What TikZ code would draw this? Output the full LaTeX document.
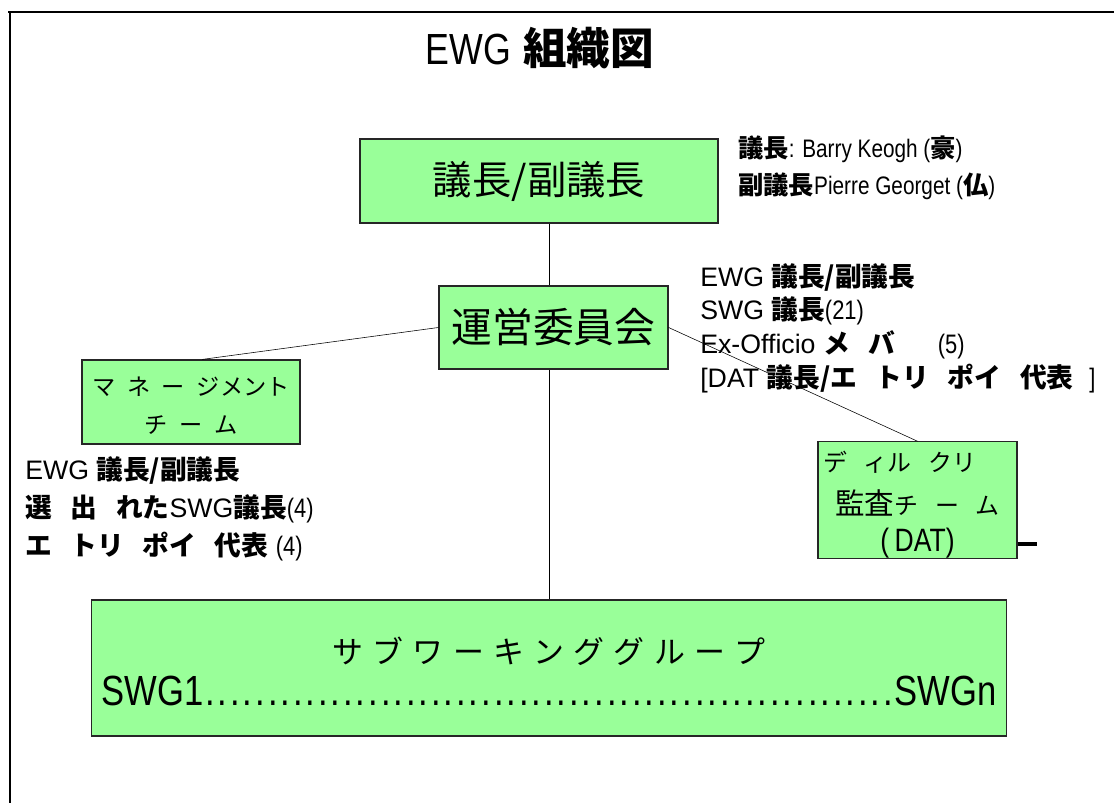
\documentclass[tikz,border=0pt]{standalone}
\usepackage{fontspec}
\setmainfont{Liberation Sans}
\newfontfamily\narrowsf[FakeStretch=0.82]{Liberation Sans}
\newfontfamily\jpfont{Noto Sans CJK JP}
\newcommand{\jpbold}[1]{{\jpfont\bfseries #1}}
\newcommand{\jgap}{\hspace{0.7em}}
\definecolor{boxgreen}{RGB}{153,255,153}

\tikzset{
  orgbox/.style={draw=black!85, fill=boxgreen, line width=0.8pt, inner sep=0pt, align=center},
  membernote/.style={inner sep=0pt, anchor=west, align=left},
}

\begin{document}
\begin{tikzpicture}[x=0.025cm, y=-0.025cm]
\useasboundingbox (0,0) rectangle (1114,803);

% frame
\draw[line width=1.2pt] (1114,12) -- (8,12);
\draw[line width=0.9pt] (10,12) -- (10,803);

% title
\node[font=\fontsize{31}{36}\selectfont] (title) at (540,48) {{\narrowsf EWG} \jpbold{組織図}};

% chair / vice chair
\node[orgbox, minimum width=8.95cm, minimum height=2.1cm,
      font=\jpfont\fontsize{28}{34}\selectfont] (chair) at (539,181) {議長/副議長};
\node[membernote, font=\narrowsf\fontsize{18}{26}\selectfont] (chairnote) at (738,168)
  {\jpbold{議長}: Barry Keogh (\jpbold{豪})\\
   \jpbold{副議長}Pierre Georget (\jpbold{仏})};

% steering committee
\node[orgbox, minimum width=5.725cm, minimum height=2.075cm,
      font=\jpfont\fontsize{29}{34}\selectfont] (steer) at (553.5,327.5) {運営委員会};
\node[membernote, font=\fontsize{19}{24}\selectfont] (steernote) at (700,328)
  {EWG \jpbold{議長/副議長}\\
   SWG \jpbold{議長}{\narrowsf (21)}\\
   Ex-Officio \jpbold{メ\jgap バ}\hspace{1.6em}{\narrowsf (5)}\\
   {[}DAT \jpbold{議長/エ\jgap トリ\jgap ポイ\jgap 代表}\hspace{0.6em}{\narrowsf ]}};

% management team
\node[orgbox, minimum width=5.45cm, minimum height=2.1cm,
      font=\jpfont\fontsize{16.5}{27}\selectfont] (mgmt) at (191,402)
  {\rule{0pt}{18pt}マ\hspace{0.5em}ネ\hspace{0.5em}ー\hspace{0.5em}ジメント\\チ\hspace{0.5em}ー\hspace{0.5em}ム};
\node[membernote, font=\fontsize{19}{27}\selectfont] (mgmtnote) at (25,509)
  {EWG \jpbold{議長/副議長}\\
   \jpbold{選\jgap 出\jgap れた}SWG\jpbold{議長}{\narrowsf (4)}\\
   \jpbold{エ\jgap トリ\jgap ポイ\jgap 代表}\ {\narrowsf (4)}};

% directory audit team
\node[orgbox, minimum width=4.975cm, minimum height=2.85cm,
      font=\jpfont\fontsize{17}{31}\selectfont] (dat) at (917.5,500)
  {\rule{0pt}{21pt}デ\jgap ィル\jgap クリ\hspace*{1.5em}\\
   {\fontsize{21}{31}\selectfont 監査}チ\jgap ー\jgap ム\\[-5pt]
   {\narrowsf\fontsize{23}{26}\selectfont (\,DAT)}};
\coordinate (dattick) at (1037,544);

% sub working groups
\node[orgbox, minimum width=22.85cm, minimum height=3.4cm,
      font=\fontsize{22}{30}\selectfont] (swg) at (549,668)
  {\rule{0pt}{24pt}\jpfont サ\hspace{0.3em}ブ\hspace{0.3em}ワ\hspace{0.3em}ー\hspace{0.3em}キ\hspace{0.3em}ン\hspace{0.3em}グ\hspace{0.3em}グ\hspace{0.3em}ル\hspace{0.3em}ー\hspace{0.3em}プ\\
   {\narrowsf\fontsize{30}{34}\selectfont\hbox to 22.35cm{SWG1\xleaders\hbox to 0.31cm{\hss.\hss}\hfill SWGn}}};

% connectors
\draw (chair.south -| swg.north) -- (steer.north -| swg.north);
\draw (steer.south -| swg.north) -- (swg.north);
\draw (steer.west) -- ([xshift=0.28cm]mgmt.north);
\draw (steer.east) -- (dat.north);
\draw[line width=2.8pt] (dat.east |- dattick) -- (dattick);

\end{tikzpicture}
\end{document}
